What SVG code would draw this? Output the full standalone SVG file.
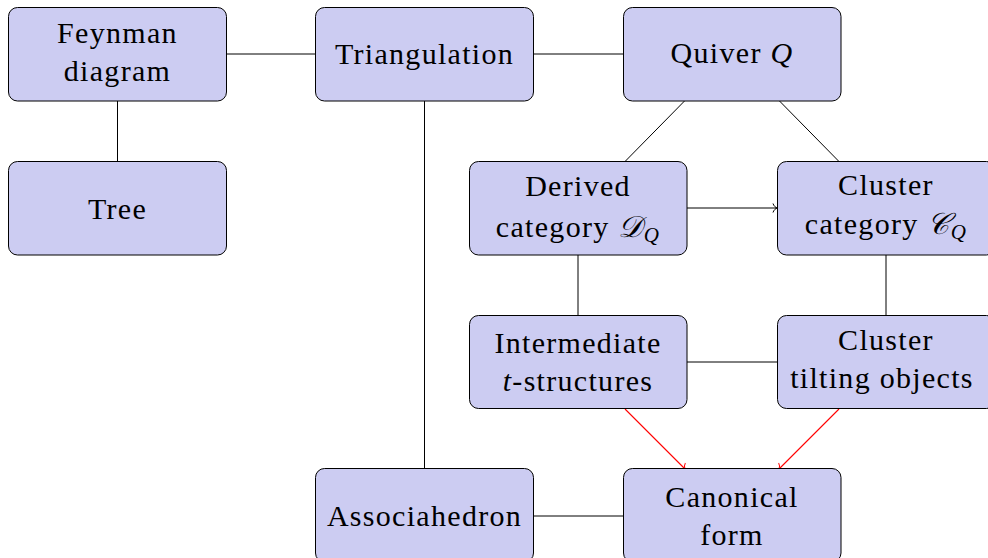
<svg xmlns="http://www.w3.org/2000/svg" width="988" height="558" viewBox="0 0 988 558" font-family="Liberation Serif, DejaVu Serif, serif">
<style>
.box{fill:#ccccf2;stroke:#000;stroke-width:1}
.t{font-size:30px;letter-spacing:1.3px;fill:#000;text-anchor:middle}
.m{font-style:italic}
.c{fill:none;stroke:#000;stroke-width:1}
.r{fill:none;stroke:#ff0000;stroke-width:1.1}
</style>
<defs>
<marker id="ah" markerUnits="userSpaceOnUse" markerWidth="12" markerHeight="12" refX="0" refY="0" viewBox="-6 -6 12 12" orient="auto" overflow="visible">
<path d="M-4,-4.5 C-3.3,-2 -1.2,-0.5 0,0 C-1.2,0.5 -3.3,2 -4,4.5" fill="none" stroke="#000" stroke-width="1"/>
</marker>
<marker id="ahr" markerUnits="userSpaceOnUse" markerWidth="12" markerHeight="12" refX="0" refY="0" viewBox="-6 -6 12 12" orient="auto" overflow="visible">
<path d="M-4,-4.5 C-3.3,-2 -1.2,-0.5 0,0 C-1.2,0.5 -3.3,2 -4,4.5" fill="none" stroke="#ff0000" stroke-width="1"/>
</marker>
</defs>
<g id="connectors">
<line class="c" x1="226.5" y1="54" x2="315.5" y2="54"/>
<line class="c" x1="117.5" y1="101" x2="117.5" y2="161"/>
<line class="c" x1="533.5" y1="54" x2="623" y2="54"/>
<line class="c" x1="424.5" y1="101" x2="424.5" y2="468"/>
<line class="c" x1="684.5" y1="101" x2="625.5" y2="161"/>
<line class="c" x1="779.5" y1="101" x2="838.5" y2="161"/>
<line class="c" x1="687" y1="208" x2="777" y2="208" marker-end="url(#ah)"/>
<line class="c" x1="578" y1="255" x2="578" y2="315"/>
<line class="c" x1="886" y1="255" x2="886" y2="315"/>
<line class="c" x1="687" y1="362" x2="777" y2="362"/>
<line class="c" x1="533.5" y1="516" x2="623" y2="516"/>
<path class="r" d="M625,409 L685,469" marker-end="url(#ahr)"/>
<path class="r" d="M839,409 L779,469" marker-end="url(#ahr)"/>
</g>
<g id="feynman">
<rect class="box" x="8.5" y="7.5" width="218" height="93.5" rx="9"/>
<text class="t" x="117.5" y="43">Feynman</text>
<text class="t" x="117.5" y="81">diagram</text>
</g>
<g id="triangulation">
<rect class="box" x="315.5" y="7.5" width="218" height="93.5" rx="9"/>
<text class="t" x="424.5" y="64">Triangulation</text>
</g>
<g id="quiver">
<rect class="box" x="623.5" y="7.5" width="217.5" height="93.5" rx="9"/>
<text class="t" x="732" y="63">Quiver <tspan class="m">Q</tspan></text>
</g>
<g id="tree">
<rect class="box" x="8.5" y="161.5" width="218" height="93.5" rx="9"/>
<text class="t" x="117.5" y="219">Tree</text>
</g>
<g id="derived">
<rect class="box" x="469.5" y="161.5" width="217.5" height="93.5" rx="9"/>
<text class="t" x="578" y="196">Derived</text>
<text class="t" x="578" y="237">category <tspan class="m">𝒟</tspan><tspan class="m" font-size="21" dy="5">Q</tspan></text>
</g>
<g id="cluster">
<rect class="box" x="777.5" y="161.5" width="218" height="93.5" rx="9"/>
<text class="t" x="886" y="195">Cluster</text>
<text class="t" x="886" y="234">category <tspan class="m">𝒞</tspan><tspan class="m" font-size="21" dy="5">Q</tspan></text>
</g>
<g id="intermediate">
<rect class="box" x="469.5" y="315.5" width="217.5" height="93" rx="9"/>
<text class="t" x="578" y="353">Intermediate</text>
<text class="t" x="578" y="391"><tspan class="m">t</tspan>-structures</text>
</g>
<g id="tilting">
<rect class="box" x="777.5" y="315.5" width="218" height="93" rx="9"/>
<text class="t" x="886" y="350">Cluster</text>
<text class="t" x="882" y="388">tilting objects</text>
</g>
<g id="associahedron">
<rect class="box" x="315.5" y="468.5" width="218" height="93.5" rx="9"/>
<text class="t" x="424.5" y="526">Associahedron</text>
</g>
<g id="canonical">
<rect class="box" x="623.5" y="468.5" width="217.5" height="93.5" rx="9"/>
<text class="t" x="732" y="507">Canonical</text>
<text class="t" x="732" y="545">form</text>
</g>
</svg>
